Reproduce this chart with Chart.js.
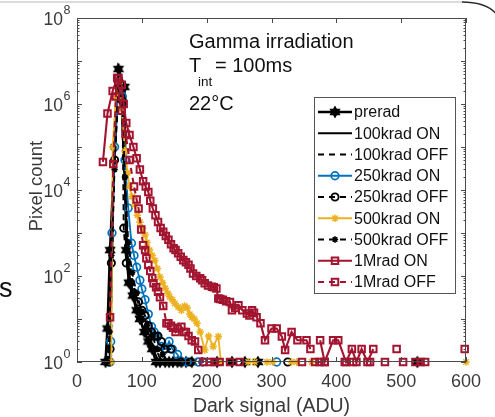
<!DOCTYPE html>
<html>
<head>
<meta charset="utf-8">
<script src="https://cdn.jsdelivr.net/npm/chart.js@4"></script>
<style>
  html, body { margin: 0; padding: 0; background: #fff; }
  #wrap { width: 495px; height: 417px; }
</style>
</head>
<body>
<div id="wrap"><canvas id="chart" width="495" height="417"></canvas></div>
<script>
// histogram values (x = dark signal in ADU, y = pixel count)
const preradX = [44, 47, 51, 64, 73, 76, 80, 86, 92, 97, 104, 110, 116, 122, 128, 136, 142, 148, 155, 161, 168, 177, 216, 239, 259, 279, 525];
const preradY = [1, 6, 400, 6.5e6, 2.5e6, 400, 70, 35, 16, 10, 5, 3, 2, 1, 1, 1, 1, 1, 1, 1, 1, 1, 1, 1, 1, 1, 1];

const on100X = [50, 53, 57, 63, 68, 73, 77, 82, 88, 95, 102, 110, 118, 126];
const on100Y = [1, 30, 3e4, 4e6, 1.5e6, 2e4, 500, 80, 30, 12, 6, 3, 2, 1];

const off100X = [49, 53, 57, 63, 68, 73, 78, 84, 90, 97, 105, 113, 122, 130];
const off100Y = [1, 20, 2e4, 3.5e6, 1.8e6, 3e4, 700, 100, 40, 14, 6, 3, 2, 1];

const on250X = [51, 52, 54, 58, 64, 70, 74, 79, 84, 88, 92, 97, 100, 105, 110, 115, 119, 123, 130, 137, 142, 147, 155, 162, 170, 187, 194, 308];
const on250Y = [1, 3, 1000, 1e5, 3e6, 1.5e6, 5e4, 3800, 580, 300, 160, 80, 50, 28, 13, 6.6, 5, 3.9, 2.3, 2, 3, 2, 1.5, 1, 1, 1, 1, 1];

const off250X = [49, 51, 53, 58, 64, 70, 72, 76, 82, 88, 95, 100, 105, 110, 115, 120, 125, 130, 135, 145, 160, 175, 325];
const off250Y = [1, 2, 200, 5e4, 3e6, 1.2e6, 1300, 200, 70, 40, 25, 16, 12, 7, 5, 4, 4, 3, 2, 2, 1, 1, 1];

const on500X = [53, 55, 60, 65, 69, 74, 78, 81, 85, 89, 93, 97, 101, 105, 108, 112, 116, 120, 124, 128, 132, 136, 140, 143, 147, 151, 156, 161, 166, 170, 174, 177, 181, 185, 190, 197, 203, 210, 218, 222, 264, 274, 293, 302, 331, 339, 362, 600];
const on500Y = [1, 1e5, 1.5e6, 3e6, 8e5, 8e4, 2.5e4, 1.2e4, 7000, 4500, 2600, 1800, 1300, 900, 600, 400, 300, 230, 150, 95, 70, 52, 40, 33, 28, 23, 19, 16, 20, 18, 13, 11, 10, 8, 5, 1.9, 4, 2.3, 3.9, 1, 1, 1, 1, 1, 1, 1, 1, 1];

const off500X = [47, 50, 53, 58, 64, 70, 74, 79, 85, 92, 100, 108, 116, 124, 132, 140, 150, 158];
const off500Y = [1, 5, 300, 3e4, 2.5e6, 1e6, 2e4, 600, 120, 40, 15, 7, 4, 2, 1.5, 1, 1, 1];

const on1MX = [40, 47, 55, 62, 69, 72, 76, 81, 87, 92, 97, 102, 106, 110, 113, 117, 121, 125, 129, 133, 137, 141, 145, 149, 152, 156, 160, 164, 168, 172, 175, 179, 184, 190, 193, 197, 202, 208, 211, 215, 218, 221, 225, 230, 236, 239, 244, 249, 255, 262, 266, 270, 273, 277, 283, 290, 300, 308, 316, 321, 331, 340, 354, 360, 375, 382, 395, 403, 415, 424, 431, 439, 448, 457, 493, 598];
const on1MY = [4.5e4, 6e5, 2e6, 4e6, 2.8e6, 1e6, 3.6e5, 1.9e5, 1e5, 5.5e4, 3e4, 1.6e4, 1.2e4, 9000, 5600, 3700, 2600, 1800, 1300, 1070, 850, 700, 550, 440, 400, 340, 280, 234, 210, 182, 150, 115, 100, 89, 80, 68, 60, 56, 55, 51, 30, 29, 28, 26, 25, 16, 18, 21, 16, 13.5, 12, 16, 14, 11, 8, 3.2, 6, 6, 3.9, 1.9, 5, 3.2, 3.2, 2, 3.2, 1, 3.2, 3.2, 1, 2, 1, 2, 1, 2, 2, 2];

const off1MX = [51, 56, 60, 64, 69, 75, 81, 88, 92, 95, 99, 102, 105, 107, 110, 113, 116, 118, 122, 125, 128, 133, 138, 141, 145, 148, 152, 155, 161, 165, 168, 172, 177, 182, 187, 195, 205, 212, 220, 236, 251, 347, 367, 374, 382, 413, 426, 452, 475, 503, 522, 530, 537];
const off1MY = [11, 4e4, 1.5e6, 4e6, 7e5, 2e5, 5e4, 1.2e4, 6000, 3700, 1200, 520, 400, 260, 180, 130, 90, 68, 55, 43, 32, 20, 8, 8, 7, 6.3, 5, 6, 6.6, 5, 5, 4, 3.2, 3, 1.9, 1, 1, 1, 1, 1, 1, 1, 1, 1, 1, 1, 1, 1, 1, 1, 1, 1, 1];

const seriesLabels = ['prerad', '100krad ON', '100krad OFF', '250krad ON', '250krad OFF', '500krad ON', '500krad OFF', '1Mrad ON', '1Mrad OFF'];
const xTicks = [0, 100, 200, 300, 400, 500, 600];
const yExponents = [0, 2, 4, 6, 8];

const FONT = '"Liberation Sans", Arial, sans-serif';
const BLUE = '#0072BD', YELLOW = '#EDB120', RED = '#A2142F', BLACK = '#000000';
const EMPTY_BIN = 14; // points further apart than this have empty bins between them (log axis drops zeros)

// hexagram marker like matlab's 'h'
function hexagram(size, color) {
  const c = document.createElement('canvas');
  c.width = c.height = size;
  const g = c.getContext('2d');
  const r = size / 2 - 0.5;
  g.fillStyle = color;
  g.beginPath();
  for (let i = 0; i < 12; i++) {
    const a = -Math.PI / 2 + i * Math.PI / 6;
    const rr = i % 2 === 0 ? r : r * 0.577;
    g.lineTo(size / 2 + rr * Math.cos(a), size / 2 + rr * Math.sin(a));
  }
  g.closePath();
  g.fill();
  return c;
}
const starImg = hexagram(14, BLACK);

function pts(xs, ys) {
  const out = [];
  xs.forEach((x, i) => {
    if (i > 0 && x - xs[i - 1] > EMPTY_BIN) out.push({ x: (x + xs[i - 1]) / 2, y: null });
    out.push({ x: x, y: ys[i] });
  });
  return out;
}

const styles = [
  { color: BLACK, width: 2.6, dash: [], point: starImg, radius: 7, pw: 1 },
  { color: BLACK, width: 1.8, dash: [], point: false, radius: 0, pw: 1 },
  { color: BLACK, width: 1.8, dash: [6, 4], point: false, radius: 0, pw: 1 },
  { color: BLUE, width: 1.8, dash: [], point: 'circle', radius: 3.8, pw: 1.7 },
  { color: BLACK, width: 1.8, dash: [6, 4], point: 'circle', radius: 3.6, pw: 1.9 },
  { color: YELLOW, width: 1.8, dash: [], point: 'star', radius: 3.8, pw: 1.5 },
  { color: BLACK, width: 1.8, dash: [6, 4], point: 'star', radius: 3.2, pw: 1.7 },
  { color: RED, width: 2.1, dash: [], point: 'rect', radius: 4.6, pw: 2 },
  { color: RED, width: 2.1, dash: [6, 4], point: 'rect', radius: 4.6, pw: 2 }
];

const seriesData = [
  pts(preradX, preradY), pts(on100X, on100Y), pts(off100X, off100Y),
  pts(on250X, on250Y), pts(off250X, off250Y), pts(on500X, on500Y),
  pts(off500X, off500Y), pts(on1MX, on1MY), pts(off1MX, off1MY)
];

const datasets = seriesData.map((d, i) => {
  const s = styles[i];
  return {
    label: seriesLabels[i],
    data: d,
    borderColor: s.color,
    borderWidth: s.width,
    borderDash: s.dash,
    pointStyle: s.point,
    pointRadius: s.radius,
    pointBorderWidth: s.pw,
    pointBorderColor: s.color,
    pointBackgroundColor: 'rgba(0,0,0,0)',
    tension: 0,
    spanGaps: false,
    clip: false,
    order: seriesData.length - i
  };
});

// marker for the legend box
function marker(c, s, x, y) {
  if (!s.point) return;
  if (s.point === starImg) { c.drawImage(starImg, x - 7, y - 7); return; }
  c.save();
  c.setLineDash([]);
  c.strokeStyle = s.color;
  c.lineWidth = s.pw;
  const r = s.radius;
  c.beginPath();
  if (s.point === 'circle') {
    c.arc(x, y, r, 0, Math.PI * 2);
  } else if (s.point === 'rect') {
    const h = r / Math.SQRT2;
    c.rect(x - h, y - h, h * 2, h * 2);
  } else if (s.point === 'star') {
    for (let k = 0; k < 4; k++) {
      const a = k * Math.PI / 4;
      c.moveTo(x - r * Math.cos(a), y - r * Math.sin(a));
      c.lineTo(x + r * Math.cos(a), y + r * Math.sin(a));
    }
  }
  c.stroke();
  c.restore();
}

const decorations = {
  id: 'decorations',
  beforeDraw(chart) {
    const c = chart.ctx;
    c.save();
    c.fillStyle = '#fff';
    c.fillRect(0, 0, chart.width, chart.height);
    // edge of the slide box this figure was cut from
    c.lineWidth = 1.5;
    c.strokeStyle = '#cfcfcf';
    c.beginPath(); c.moveTo(0, 2); c.lineTo(462, 2); c.stroke();
    c.strokeStyle = '#2a2a2a';
    c.beginPath(); c.moveTo(462, 2); c.quadraticCurveTo(488, 2, 498, 16); c.stroke();
    c.fillStyle = '#111';
    c.font = '27px ' + FONT;
    c.textBaseline = 'alphabetic';
    c.fillText('s', -1, 297);
    c.restore();
  },
  afterDraw(chart) {
    const c = chart.ctx;
    const a = chart.chartArea;
    const xs = chart.scales.x, ys = chart.scales.y;
    c.save();
    c.setLineDash([]);

    // axes box
    c.strokeStyle = '#4a4a4a';
    c.lineWidth = 1;
    c.strokeRect(a.left + 0.5, a.top + 0.5, a.right - a.left - 1, a.bottom - a.top - 1);

    // ticks (inward)
    c.beginPath();
    xTicks.forEach(v => {
      const px = Math.round(xs.getPixelForValue(v)) + 0.5;
      c.moveTo(px, a.bottom); c.lineTo(px, a.bottom - 5);
      c.moveTo(px, a.top); c.lineTo(px, a.top + 5);
    });
    for (let d = 0; d <= 8; d++) {
      for (let k = 1; k <= (d < 8 ? 9 : 1); k++) {
        const py = Math.round(ys.getPixelForValue(k * Math.pow(10, d))) + 0.5;
        const len = k === 1 ? 5 : 2.5;
        c.moveTo(a.left, py); c.lineTo(a.left + len, py);
        c.moveTo(a.right, py); c.lineTo(a.right - len, py);
      }
    }
    c.stroke();

    // tick labels
    c.fillStyle = '#3a3a3a';
    c.textBaseline = 'alphabetic';
    c.font = '18px ' + FONT;
    c.textAlign = 'center';
    xTicks.forEach(v => c.fillText(String(v), xs.getPixelForValue(v), 387));
    yExponents.forEach(e => {
      const py = ys.getPixelForValue(Math.pow(10, e));
      c.font = '17.5px ' + FONT;
      c.textAlign = 'right';
      c.fillText('10', 63, py + 6.5);
      c.font = '12.5px ' + FONT;
      c.textAlign = 'left';
      c.fillText(String(e), 63.5, py - 4);
    });

    // axis titles
    c.font = '19.5px ' + FONT;
    c.textAlign = 'center';
    c.fillText('Dark signal (ADU)', (a.left + a.right) / 2, 412);
    c.save();
    c.translate(42, 186);
    c.rotate(-Math.PI / 2);
    c.font = '18.5px ' + FONT;
    c.fillText('Pixel count', 0, 0);
    c.restore();

    // annotation
    c.fillStyle = '#111';
    c.textAlign = 'left';
    c.font = '20px ' + FONT;
    c.fillText('Gamma irradiation', 189, 48);
    c.fillText('T', 189, 72);
    c.fillText('= 100ms', 215, 72);
    c.fillText('22°C', 189, 110);
    c.font = '13.5px ' + FONT;
    c.fillText('int', 198, 86);

    // legend
    const lx = 314, ly = 97, lw = 141, lh = 196;
    c.fillStyle = '#fff';
    c.fillRect(lx, ly, lw, lh);
    c.strokeStyle = '#555';
    c.lineWidth = 1;
    c.strokeRect(lx + 0.5, ly + 0.5, lw, lh);
    c.font = '16px ' + FONT;
    c.textBaseline = 'middle';
    seriesLabels.forEach((lab, i) => {
      const s = styles[i];
      const y = 112 + i * 21.25;
      c.save();
      c.strokeStyle = s.color;
      c.lineWidth = s.width;
      c.setLineDash(s.dash.length ? [6, 5] : []);
      c.beginPath(); c.moveTo(318, y); c.lineTo(352, y); c.stroke();
      c.restore();
      marker(c, s, 335, y);
      c.fillStyle = '#111';
      c.fillText(lab, 354, y + 1);
    });
    c.restore();
  }
};

new Chart(document.getElementById('chart'), {
  type: 'line',
  data: { datasets: datasets },
  options: {
    responsive: false,
    animation: false,
    layout: { padding: { top: 18, right: 29, left: 0, bottom: 0 } },
    scales: {
      x: {
        type: 'linear', min: 0, max: 600,
        ticks: { display: false }, grid: { display: false }, border: { display: false },
        afterFit(s) { s.height = 55; }
      },
      y: {
        type: 'logarithmic', min: 1, max: 1e8,
        ticks: { display: false }, grid: { display: false }, border: { display: false },
        afterFit(s) { s.width = 77; }
      }
    },
    plugins: { legend: { display: false }, tooltip: { enabled: false } }
  },
  plugins: [decorations]
});
</script>
</body>
</html>
